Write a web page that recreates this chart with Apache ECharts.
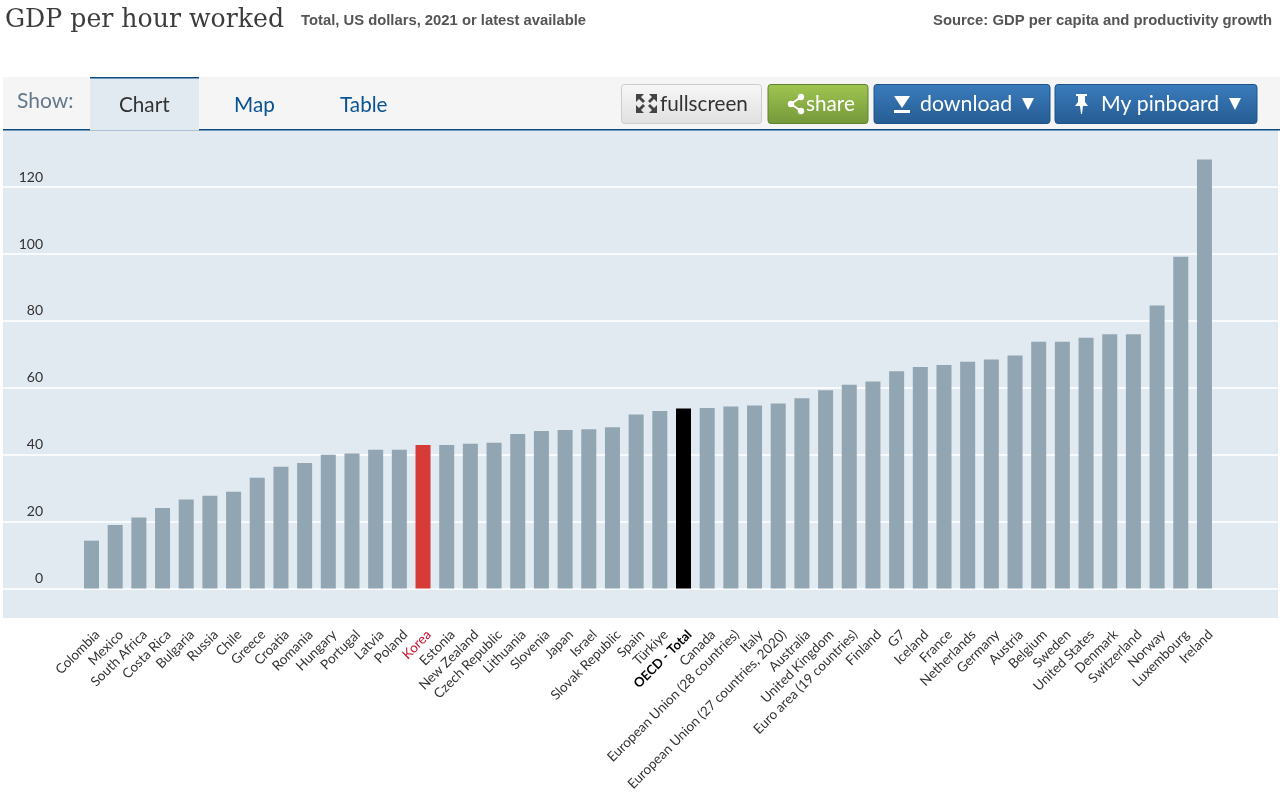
<!DOCTYPE html>
<html><head><meta charset="utf-8">
<style>html,body{margin:0;padding:0;background:#fff}#c{width:1280px;height:793px}</style>
<script src="https://cdn.jsdelivr.net/npm/echarts@6/dist/echarts.min.js"></script>
</head><body><div id="c"></div>
<script>
const categories = ["Colombia","Mexico","South Africa","Costa Rica","Bulgaria","Russia","Chile","Greece","Croatia","Romania","Hungary","Portugal","Latvia","Poland","Korea","Estonia","New Zealand","Czech Republic","Lithuania","Slovenia","Japan","Israel","Slovak Republic","Spain","Türkiye","OECD - Total","Canada","European Union (28 countries)","Italy","European Union (27 countries, 2020)","Australia","United Kingdom","Euro area (19 countries)","Finland","G7","Iceland","France","Netherlands","Germany","Austria","Belgium","Sweden","United States","Denmark","Switzerland","Norway","Luxembourg","Ireland"];
const values = [14.3,19,21.2,24.1,26.6,27.7,28.9,33.1,36.4,37.5,40,40.4,41.5,41.5,42.9,42.9,43.3,43.6,46.2,47.1,47.4,47.6,48.2,52,53.1,53.8,54,54.4,54.7,55.3,56.9,59.3,60.9,61.9,65,66.2,66.8,67.8,68.5,69.7,73.8,73.8,75,76,76,84.6,99.2,128.3];
const yMin = -20, yMax = 140, yStep = 20;
const barColor = "#92a5b2", koreaColor = "#d63c37", oecdColor = "#000000";
const FONT = "Lato, 'Noto Sans', sans-serif";
const PANEL = "#e1e9f1";

const grad = (a,b)=>({type:'linear',x:0,y:0,x2:0,y2:1,colorStops:[{offset:0,color:a},{offset:1,color:b}]});
const rect = (x,y,w,h,fill,extra={})=>({type:'rect',shape:{x,y,width:w,height:h,r:extra.r||0},style:{fill,stroke:extra.stroke,lineWidth:extra.stroke?1:0},silent:true});
const text = (x,y,t,size,fill,extra={})=>({type:'text',x,y,silent:true,style:{text:t,font:`${extra.weight||'normal'} ${size}px ${extra.family||FONT}`,fill,textAlign:extra.align||'left',textVerticalAlign:'middle'}});
const poly = (pts,fill)=>({type:'polygon',shape:{points:pts},style:{fill},silent:true});
const blue = grad('#3b7cbd','#255c92');

const graphics = [
  rect(3,130,1275,488,PANEL),
  rect(3,77,1277,52,'#f5f5f5'),
  rect(3,129,1277,1.5,'#0b4a80'),
  rect(90,77,109,53.5,PANEL),
  rect(90,77,109,1.5,'#0b4a80'),
  text(17,101,'Show:',21,'#63788a'),
  text(119,105,'Chart',20.7,'#333333'),
  text(234,105,'Map',20.7,'#0b5390'),
  text(340,105,'Table',20.7,'#0b5390'),
  rect(621.5,84.5,140,39,grad('#f7f7f7','#e0e0e0'),{r:3,stroke:'#cccccc'}),
  poly([[636,94],[644,94],[641,97],[645,101],[643,103],[639,99],[636,102]],'#444'),
  poly([[657,94],[649,94],[652,97],[648,101],[650,103],[654,99],[657,102]],'#444'),
  poly([[636,113],[644,113],[641,110],[645,106],[643,104],[639,108],[636,105]],'#444'),
  poly([[657,113],[649,113],[652,110],[648,106],[650,104],[654,108],[657,105]],'#444'),
  text(660,104,'fullscreen',20.7,'#333333'),
  rect(768,84.5,100,39,grad('#a0c550','#74983a'),{r:3,stroke:'#5f8230'}),
  {type:'polyline',shape:{points:[[801,97],[791,104],[801,111]]},style:{stroke:'#fff',lineWidth:2,fill:null},silent:true},
  {type:'circle',shape:{cx:801,cy:97,r:3.2},style:{fill:'#fff'},silent:true},
  {type:'circle',shape:{cx:791,cy:104,r:3.2},style:{fill:'#fff'},silent:true},
  {type:'circle',shape:{cx:801,cy:111,r:3.2},style:{fill:'#fff'},silent:true},
  text(806,104,'share',20.7,'#ffffff'),
  rect(874,84.5,176,39,blue,{r:3,stroke:'#1f5488'}),
  poly([[894,96],[910,96],[902,108]],'#fff'),
  rect(894,110,16,3,'#fff'),
  text(920,104,'download',21.3,'#ffffff'),
  poly([[1022,98],[1034,98],[1028,110]],'#fff'),
  rect(1055,84.5,202,39,blue,{r:3,stroke:'#1f5488'}),
  poly([[1076,94],[1087,94],[1087,96],[1085,96],[1085,102],[1088,106],[1083,106],[1082,114],[1081,114],[1080,106],[1075,106],[1078,102],[1078,96],[1076,96]],'#fff'),
  text(1101,104,'My pinboard',21.2,'#ffffff'),
  poly([[1229,98],[1241,98],[1235,110]],'#fff')
];

const option = {
  animation:false,
  backgroundColor:'#ffffff',
  title:[
    {text:'GDP per hour worked',left:0,top:3,textStyle:{fontFamily:"'DejaVu Serif', serif",fontWeight:'normal',fontSize:25.2,color:'#3c3c3c'}},
    {text:'Total, US dollars, 2021 or latest available',left:296,top:8,textStyle:{fontFamily:"'Liberation Sans', sans-serif",fontWeight:'bold',fontSize:14.8,color:'#555555'}},
    {text:'Source: GDP per capita and productivity growth',right:3,top:8,textStyle:{fontFamily:"'Liberation Sans', sans-serif",fontWeight:'bold',fontSize:14.85,color:'#555555'}}
  ],
  graphic:{elements:graphics.map(g=>Object.assign({z:-1},g))},
  grid:[
    {left:3,width:1275,top:120.3,height:535.1,outerBoundsMode:'none'},
    {left:79.66,width:1136.64,top:120.3,height:535.1,outerBoundsMode:'none'},
    {left:85.66,width:1136.64,top:120.3,height:535.1,outerBoundsMode:'none'}
  ],
  xAxis:[
    {gridIndex:0,type:'value',show:false},
    {gridIndex:1,type:'category',data:categories,axisLine:{show:false},axisTick:{show:false},axisLabel:{show:false}},
    {gridIndex:2,type:'category',data:categories,
      axisLine:{show:false},axisTick:{show:false},
      axisLabel:{interval:0,rotate:45,margin:-23,fontFamily:FONT,fontSize:13.5,color:'#333333',
        formatter:(v)=>v==='Korea'?`{k|${v}}`:v==='OECD - Total'?`{o|${v}}`:v,
        rich:{k:{color:'#c8102e',fontFamily:FONT,fontSize:13.5},o:{color:'#000',fontWeight:'bold',fontFamily:FONT,fontSize:13}}}}
  ],
  yAxis:[
    {gridIndex:0,type:'value',min:yMin,max:yMax,interval:yStep,
      axisLine:{show:false},axisTick:{show:false},
      splitLine:{show:true,showMinLine:false,showMaxLine:false,lineStyle:{color:'#ffffff',width:1.5}},
      axisLabel:{showMinLabel:false,showMaxLabel:false,margin:-40,align:'right',verticalAlign:'bottom',lineHeight:20,fontFamily:FONT,fontSize:14,color:'#333333'}},
    {gridIndex:1,type:'value',min:yMin,max:yMax,interval:yStep,show:false,splitLine:{show:false}},
    {gridIndex:2,type:'value',min:yMin,max:yMax,interval:yStep,show:false,splitLine:{show:false}}
  ],
  series:[{
    type:'bar',xAxisIndex:1,yAxisIndex:1,barWidth:15,
    data:values.map((v,i)=>({value:v,itemStyle:{color:categories[i]==='Korea'?koreaColor:categories[i]==='OECD - Total'?oecdColor:barColor}}))
  }]
};
echarts.init(document.getElementById('c'),null,{renderer:'canvas'}).setOption(option);
</script></body></html>
